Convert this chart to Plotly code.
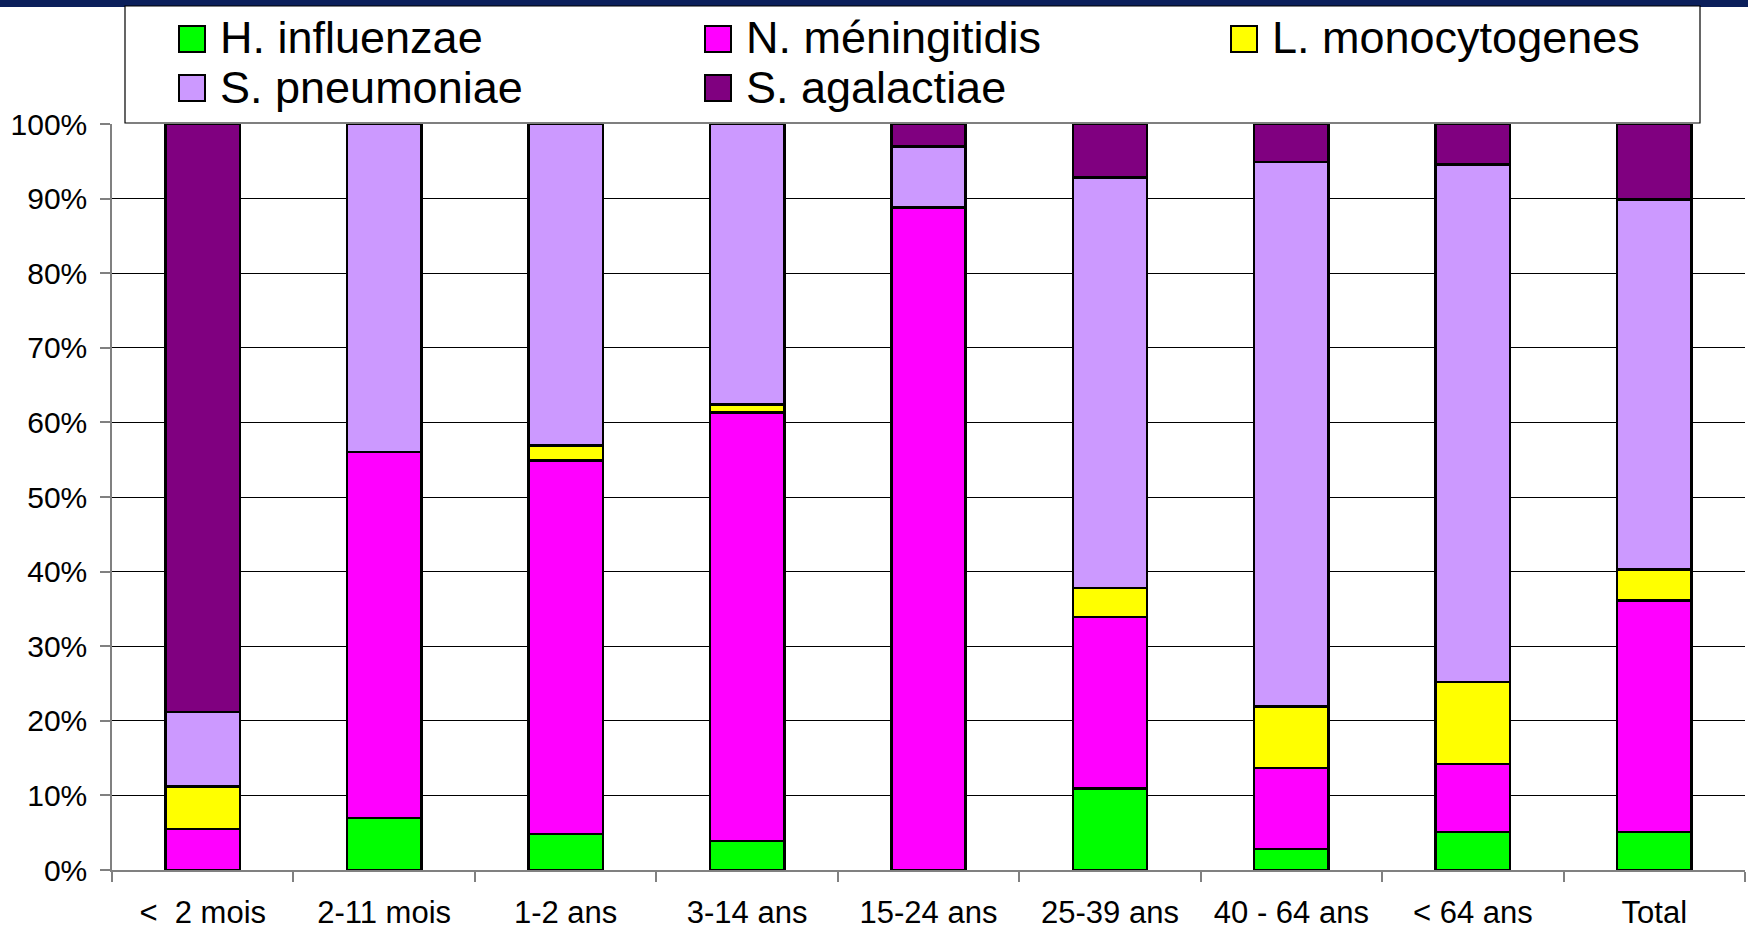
import plotly.graph_objects as go

# Age groups on the x axis
categories = ["<  2 mois", "2-11 mois", "1-2 ans", "3-14 ans", "15-24 ans",
              "25-39 ans", "40 - 64 ans", "< 64 ans", "Total"]

# Share of each pathogen per age group (fraction of 1)
h_influenzae = [0.000, 0.070, 0.048, 0.039, 0.000, 0.109, 0.028, 0.051, 0.051]
n_meningitidis = [0.055, 0.490, 0.501, 0.574, 0.888, 0.230, 0.109, 0.091, 0.310]
l_monocytogenes = [0.057, 0.000, 0.020, 0.011, 0.000, 0.039, 0.082, 0.110, 0.042]
s_pneumoniae = [0.100, 0.440, 0.431, 0.376, 0.082, 0.550, 0.730, 0.694, 0.496]
s_agalactiae = [0.788, 0.000, 0.000, 0.000, 0.030, 0.072, 0.051, 0.054, 0.101]

series_names = ["H. influenzae", "N. méningitidis", "L. monocytogenes",
                "S. pneumoniae", "S. agalactiae"]
series_values = [h_influenzae, n_meningitidis, l_monocytogenes,
                 s_pneumoniae, s_agalactiae]
series_colors = ["#00FF00", "#FF00FF", "#FFFF00", "#CC99FF", "#800080"]

W, H = 1748, 930
L, R, T, B = 112, 1745, 124, 870  # plot area in pixels


def px_x(px):
    return (px - L) / (R - L)


def px_y(py):
    return (B - py) / (B - T)


FONT = "Liberation Sans, Arial, sans-serif"

fig = go.Figure()
for name, vals, col in zip(series_names, series_values, series_colors):
    fig.add_trace(go.Bar(
        x=categories, y=vals, name=name,
        marker=dict(color=col, line=dict(color="black", width=2.5)),
        showlegend=False,
    ))

shapes = []
annotations = []

# Navy band across the top of the slide
shapes.append(dict(type="rect", xref="paper", yref="paper",
                   x0=px_x(0), x1=px_x(W), y0=px_y(7), y1=px_y(0),
                   fillcolor="#0b1f5b", line=dict(width=0), layer="above"))

# Legend box
shapes.append(dict(type="rect", xref="paper", yref="paper",
                   x0=px_x(125), x1=px_x(1700), y0=px_y(123), y1=px_y(6),
                   fillcolor="white", line=dict(color="black", width=1.2),
                   layer="above"))

# Legend entries: (column swatch x, row center y)
cols_x = [179, 705, 1231]
rows_y = [39, 88]
sw = 26
for i, (name, col) in enumerate(zip(series_names, series_colors)):
    cx = cols_x[i % 3]
    cy = rows_y[i // 3]
    shapes.append(dict(type="rect", xref="paper", yref="paper",
                       x0=px_x(cx), x1=px_x(cx + sw),
                       y0=px_y(cy + sw / 2), y1=px_y(cy - sw / 2),
                       fillcolor=col, line=dict(color="black", width=2),
                       layer="above"))
    annotations.append(dict(xref="paper", yref="paper",
                            x=px_x(cx + sw + 13), y=px_y(cy - 1),
                            xanchor="left", yanchor="middle",
                            text=name, showarrow=False,
                            font=dict(family=FONT, size=45, color="black")))

fig.update_layout(
    width=W, height=H,
    margin=dict(l=L, r=W - R, t=T, b=H - B, pad=0, autoexpand=False),
    barmode="stack",
    bargap=0.59,
    paper_bgcolor="white",
    plot_bgcolor="white",
    font=dict(family=FONT, size=30, color="black"),
    shapes=shapes,
    annotations=annotations,
    showlegend=False,
)

fig.update_xaxes(
    type="category",
    automargin=False,
    showgrid=False,
    showline=True, linecolor="#808080", linewidth=1.5,
    ticks="outside", ticklen=10, tickcolor="#808080", tickwidth=1.5,
    tickson="boundaries",
    ticklabelstandoff=14,
    tickfont=dict(family=FONT, size=31, color="black"),
)
fig.update_yaxes(
    range=[0, 1], dtick=0.1, tickformat=".0%",
    automargin=False,
    showgrid=True, gridcolor="black", gridwidth=1,
    zeroline=False,
    showline=True, linecolor="#808080", linewidth=1.5,
    ticks="outside", ticklen=10, tickcolor="#808080", tickwidth=1.5,
    ticklabelstandoff=7,
    tickfont=dict(family=FONT, size=30, color="black"),
)

fig.write_html("out.html")
